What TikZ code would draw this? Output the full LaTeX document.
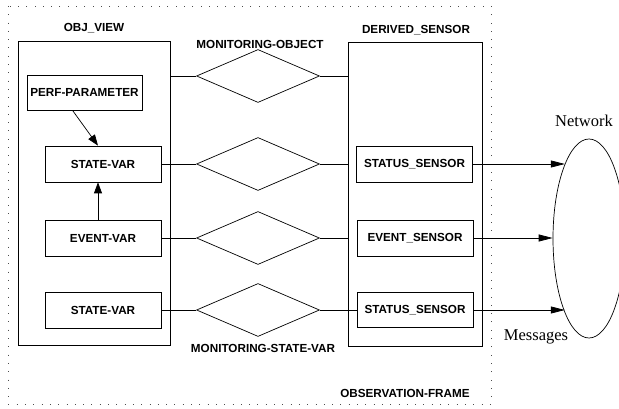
\documentclass[tikz,border=0pt]{standalone}
\usepackage{fontspec}
\setmainfont{Liberation Serif}
\setsansfont{Liberation Sans}
\usetikzlibrary{arrows.meta,shapes.geometric,calc}

\begin{document}
\begin{tikzpicture}[x=1pt,y=-1pt,line width=0.7pt,
  lbl/.style={font=\sffamily\bfseries\fontsize{11.7}{13}\selectfont, inner sep=0pt},
  varbox/.style={draw, lbl, minimum width=116pt, minimum height=36pt},
  viewbox/.style={draw, minimum width=#1, minimum height=304pt},
  rel/.style={draw, diamond, minimum width=123pt, minimum height=53pt, inner sep=0pt},
  netlbl/.style={font=\fontsize{16.5}{18}\selectfont, inner sep=0pt},
  msg/.style={-{Triangle[length=14pt,width=7pt]}},
  dep/.style={-{Triangle[length=11pt,width=8pt]}}]
\useasboundingbox (0,0) rectangle (619,409);
% observation frame
\draw[black!70, dash pattern=on 0.8pt off 7.5pt] (8,6) rectangle (491,404);
\node[lbl] (obsframe) at (405,393) {OBSERVATION-FRAME};
% object view side
\node[viewbox=152pt] (objview) at (94,193) {};
\node[lbl] (objviewlbl) at (94,28) {OBJ\_VIEW};
\node[varbox, minimum width=115pt, minimum height=35pt] (perf) at (84.5,92.5) {PERF-PARAMETER};
\node[varbox] (sv1) at (103,164) {STATE-VAR};
\node[varbox] (ev) at (103,238) {EVENT-VAR};
\node[varbox] (sv2) at (103,310) {STATE-VAR};
\draw[dep] ($(perf.south)+(-12,0)$) -- ($(sv1.north)+(-5,0)$);
\draw[dep] ($(ev.north)+(-5,0)$) -- ($(sv1.south)+(-5,0)$);
% monitoring relations
\foreach \n/\y in {mo/76,ms/164,me/238,msv/310}
  \node[rel] (\n) at (258,\y) {};
\node[lbl] (molbl) at (260,44) {MONITORING-OBJECT};
\node[lbl] (msvlbl) at (263,348) {MONITORING-STATE-VAR};
% derived sensor side
\node[viewbox=134pt] (dsensor) at (415,194) {};
\node[lbl] (dsensorlbl) at (416,30) {DERIVED\_SENSOR};
\node[varbox] (st1) at (414.5,164) {STATUS\_SENSOR};
\node[varbox] (es) at (415,238) {EVENT\_SENSOR};
\node[varbox, minimum height=35pt] (st2) at (415,310) {STATUS\_SENSOR};
\draw (mo.west -| objview.east) -- (mo.west);
\draw (mo.east) -- (mo.east -| dsensor.west);
\draw (sv1.east) -- (ms.west);
\draw (ms.east) -- (ms.east -| dsensor.west);
\draw (ev.east) -- (me.west);
\draw (me.east) -- (me.east -| dsensor.west);
\draw (sv2.east) -- (msv.west);
\draw (msv.east) -- (st2.west);
% network
\node[draw, ellipse, minimum width=72pt, minimum height=199pt, inner sep=0pt] (net) at (589,238.5) {};
\node[netlbl] (netlbl) at (584,121) {Network};
\node[netlbl] (msglbl) at (536,337) {Messages};
\draw[msg] (st1.east) -- (st1.east -| net.108);
\draw[msg] (es.east) -- (es.east -| net.west);
\draw[msg] (st2.east) -- (st2.east -| net.252);
\end{tikzpicture}
\end{document}
